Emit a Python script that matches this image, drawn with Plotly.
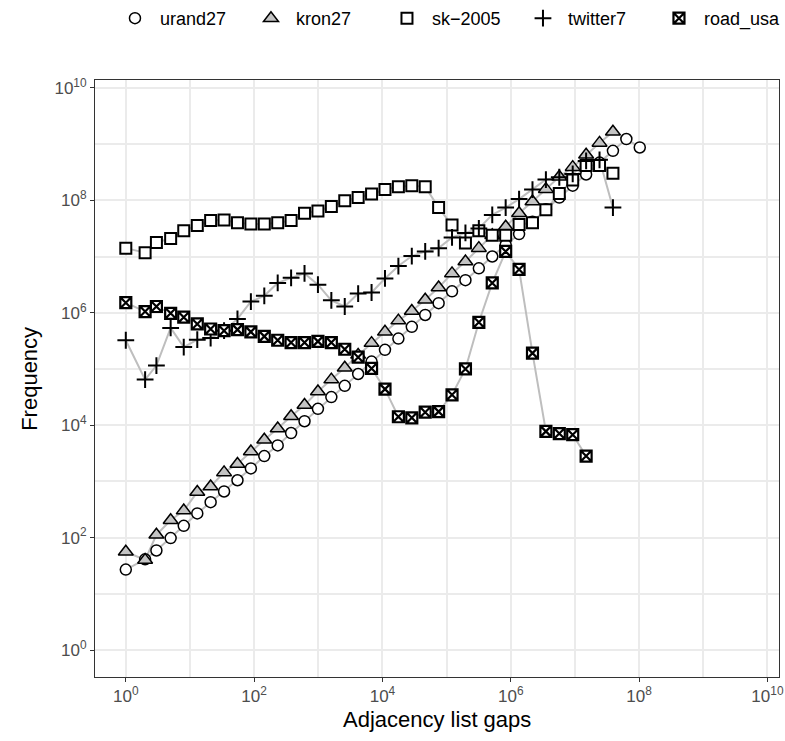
import plotly.graph_objects as go

# Fibonacci gap bins (x axis)
gap_bins = [1, 2, 3, 5, 8, 13, 21, 34, 55, 89, 144, 233, 377, 610, 987, 1597, 2584,
            4181, 6765, 10946, 17711, 28657, 46368, 75025, 121393, 196418, 317811,
            514229, 832040, 1346269, 2178309, 3524578, 5702887, 9227465, 14930352,
            24157817, 39088169, 63245986, 102334155]

urand27 = [27, 41, 59, 98, 162, 269, 427, 661, 1047, 1698, 2818, 4365, 7244, 11750,
           19500, 31600, 50100, 81300, 135000, 219000, 347000, 562000, 912000,
           1480000, 2400000, 3800000, 6170000, 10000000, 16200000, 25100000,
           41700000, 69200000, 112000000, 182000000, 288000000, 468000000,
           759000000, 1230000000, 871000000]

kron27 = [56, 40, 112, 204, 302, 646, 813, 1445, 2042, 3388, 5495, 8710, 14450, 22900,
          39800, 64600, 105000, 178000, 288000, 457000, 724000, 1070000, 1700000,
          2820000, 5010000, 8130000, 14100000, 24000000, 33900000, 58900000,
          95500000, 158000000, 263000000, 389000000, 646000000, 1050000000,
          1660000000]

sk_2005 = [14100000, 11700000, 17800000, 20900000, 28800000, 35500000, 43700000,
           44700000, 39800000, 38000000, 38000000, 39800000, 43700000, 58900000,
           64600000, 77600000, 97700000, 112000000, 129000000, 155000000, 174000000,
           182000000, 174000000, 74100000, 36300000, 17400000, 28800000, 24000000,
           24000000, 37200000, 39800000, 67600000, 132000000, 229000000, 417000000,
           417000000, 302000000]

twitter7 = [324000, 64600, 115000, 537000, 245000, 331000, 355000, 479000, 776000,
            1580000, 2000000, 3390000, 4170000, 5010000, 3160000, 1660000, 1290000,
            2190000, 2290000, 4070000, 6760000, 10200000, 12300000, 14100000,
            21900000, 26300000, 31600000, 55000000, 74100000, 105000000, 155000000,
            234000000, 257000000, 295000000, 501000000, 525000000, 74100000]

road_usa = [1510000, 1050000, 1290000, 977000, 832000, 631000, 513000, 479000, 501000,
            457000, 380000, 324000, 295000, 295000, 309000, 295000, 224000, 162000,
            102000, 43700, 14100, 13500, 17000, 17400, 34700, 100000, 676000, 3390000,
            12300000, 5890000, 191000, 7760, 7080, 6760, 2820]

series_names = ["urand27", "kron27", "sk\u22122005", "twitter7", "road_usa"]
series_values = [urand27, kron27, sk_2005, twitter7, road_usa]

tick_vals = [1, 1e2, 1e4, 1e6, 1e8, 1e10]
tick_text = ["10<sup>0</sup>", "10<sup>2</sup>", "10<sup>4</sup>", "10<sup>6</sup>",
             "10<sup>8</sup>", "10<sup>10</sup>"]
minor_vals = [1e1, 1e3, 1e5, 1e7, 1e9]

FONT = "Liberation Sans, Arial, sans-serif"

styles = {
    "urand27": dict(symbol="circle", color="white", size=11, lw=1.5),
    "kron27": dict(symbol="triangle-up", color="#C4C4C4", size=13, lw=1.5),
    "sk\u22122005": dict(symbol="square", color="white", size=11, lw=2),
    "twitter7": dict(symbol="cross-thin-open", color="black", size=12, lw=2),
    "road_usa": dict(symbol="square-x", color="white", size=11, lw=2.2),
}

fig = go.Figure()
for name, vals in zip(series_names, series_values):
    fig.add_trace(go.Scatter(
        x=gap_bins[:len(vals)], y=vals, mode="lines",
        line=dict(color="#BEBEBE", width=2), showlegend=False, hoverinfo="skip"))

for name, vals in zip(series_names, series_values):
    s = styles[name]
    fig.add_trace(go.Scatter(
        x=gap_bins[:len(vals)], y=vals, mode="markers",
        name="\u00a0" + name,
        marker=dict(symbol=s["symbol"], size=s["size"], color=s["color"],
                    line=dict(color="black", width=s["lw"]))))

axis_common = dict(
    type="log", showline=True, mirror=True, linecolor="#333333", linewidth=1,
    ticks="outside", ticklen=4, tickcolor="#333333", tickwidth=1,
    showgrid=True, gridcolor="#EBEBEB", gridwidth=1.5, zeroline=False,
    automargin=False,
    tickfont=dict(family=FONT, size=17, color="#4D4D4D"),
    minor=dict(tickvals=minor_vals, showgrid=True, gridcolor="#EBEBEB", gridwidth=1.5,
               ticks=""),
    tickvals=tick_vals, ticktext=tick_text,
)

fig.update_layout(
    width=785, height=741,
    paper_bgcolor="white", plot_bgcolor="white",
    margin=dict(l=95, r=6, t=80, b=64, autoexpand=False),
    font=dict(family=FONT, color="black"),
    xaxis=dict(axis_common, range=[-0.48, 10.18]),
    yaxis=dict(axis_common, range=[-0.48, 10.14]),
    legend=dict(orientation="h", x=0.0292, xanchor="left", y=1.134, yanchor="top",
                font=dict(family=FONT, size=18, color="black"),
                entrywidth=91, entrywidthmode="pixels",
                bgcolor="rgba(0,0,0,0)"),
    annotations=[
        dict(text="Adjacency list gaps", xref="paper", yref="paper",
             x=0.5, y=-0.071, xanchor="center", yanchor="middle", showarrow=False,
             font=dict(family=FONT, size=22, color="black")),
        dict(text="Frequency", xref="paper", yref="paper", textangle=-90,
             x=-0.096, y=0.5, xanchor="center", yanchor="middle", showarrow=False,
             font=dict(family=FONT, size=22, color="black")),
    ],
)

# remove the default page margin / scrollbars so the figure fills the window exactly
fig.write_html(
    "out.html",
    config={"displayModeBar": False},
    post_script="document.documentElement.style.overflow='hidden';"
                "document.body.style.margin='0';document.body.style.overflow='hidden';",
)
